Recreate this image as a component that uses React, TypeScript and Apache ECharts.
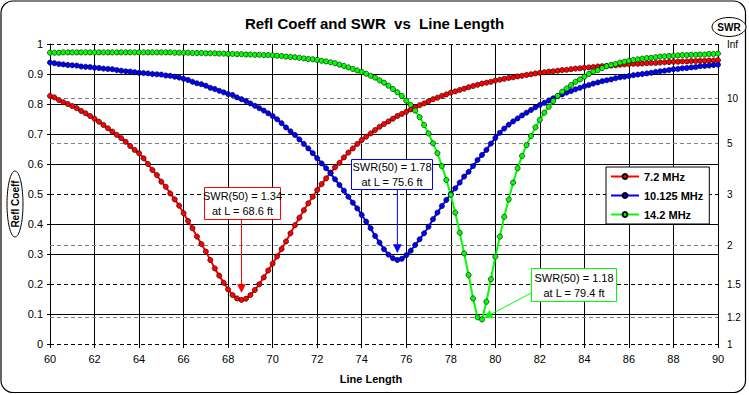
import React, { useEffect, useRef } from 'react';
import * as echarts from 'echarts';

const FONT = 'Arial, "Liberation Sans", sans-serif';

// Line length samples (ft)
const lengths = [
  60, 60.2, 60.4, 60.6, 60.8, 61, 61.2, 61.4, 61.6, 61.8,
  62, 62.2, 62.4, 62.6, 62.8, 63, 63.2, 63.4, 63.6, 63.8,
  64, 64.2, 64.4, 64.6, 64.8, 65, 65.2, 65.4, 65.6, 65.8,
  66, 66.2, 66.4, 66.6, 66.8, 67, 67.2, 67.4, 67.6, 67.8,
  68, 68.2, 68.4, 68.6, 68.8, 69, 69.2, 69.4, 69.6, 69.8,
  70, 70.2, 70.4, 70.6, 70.8, 71, 71.2, 71.4, 71.6, 71.8,
  72, 72.2, 72.4, 72.6, 72.8, 73, 73.2, 73.4, 73.6, 73.8,
  74, 74.2, 74.4, 74.6, 74.8, 75, 75.2, 75.4, 75.6, 75.8,
  76, 76.2, 76.4, 76.6, 76.8, 77, 77.2, 77.4, 77.6, 77.8,
  78, 78.2, 78.4, 78.6, 78.8, 79, 79.2, 79.4, 79.6, 79.8,
  80, 80.2, 80.4, 80.6, 80.8, 81, 81.2, 81.4, 81.6, 81.8,
  82, 82.2, 82.4, 82.6, 82.8, 83, 83.2, 83.4, 83.6, 83.8,
  84, 84.2, 84.4, 84.6, 84.8, 85, 85.2, 85.4, 85.6, 85.8,
  86, 86.2, 86.4, 86.6, 86.8, 87, 87.2, 87.4, 87.6, 87.8,
  88, 88.2, 88.4, 88.6, 88.8, 89, 89.2, 89.4, 89.6, 89.8,
  90,
];

// Reflection coefficient, 7.2 MHz
const refl72 = [
  0.827, 0.822, 0.813, 0.806, 0.800, 0.793, 0.786, 0.777, 0.769, 0.760,
  0.751, 0.741, 0.730, 0.719, 0.708, 0.697, 0.686, 0.674, 0.660, 0.647,
  0.636, 0.619, 0.600, 0.580, 0.563, 0.541, 0.524, 0.502, 0.482, 0.461,
  0.436, 0.410, 0.386, 0.358, 0.333, 0.308, 0.280, 0.252, 0.228, 0.204,
  0.182, 0.163, 0.152, 0.147, 0.151, 0.163, 0.180, 0.199, 0.222, 0.245,
  0.268, 0.292, 0.317, 0.342, 0.369, 0.396, 0.421, 0.446, 0.469, 0.491,
  0.513, 0.533, 0.552, 0.571, 0.589, 0.604, 0.622, 0.638, 0.652, 0.667,
  0.680, 0.691, 0.702, 0.713, 0.724, 0.733, 0.742, 0.751, 0.760, 0.767,
  0.774, 0.782, 0.789, 0.796, 0.802, 0.809, 0.816, 0.821, 0.827, 0.832,
  0.838, 0.842, 0.847, 0.851, 0.856, 0.860, 0.864, 0.868, 0.871, 0.874,
  0.878, 0.881, 0.884, 0.887, 0.889, 0.892, 0.894, 0.897, 0.899, 0.902,
  0.904, 0.906, 0.908, 0.909, 0.911, 0.913, 0.914, 0.916, 0.918, 0.919,
  0.921, 0.922, 0.923, 0.925, 0.926, 0.927, 0.928, 0.929, 0.931, 0.932,
  0.933, 0.934, 0.934, 0.935, 0.936, 0.937, 0.937, 0.938, 0.939, 0.940,
  0.941, 0.941, 0.942, 0.942, 0.943, 0.943, 0.944, 0.944, 0.945, 0.945,
  0.946,
];

// Reflection coefficient, 10.125 MHz
const refl10125 = [
  0.938, 0.936, 0.933, 0.932, 0.930, 0.929, 0.928, 0.925, 0.924, 0.923,
  0.921, 0.920, 0.918, 0.917, 0.916, 0.913, 0.911, 0.909, 0.908, 0.906,
  0.904, 0.903, 0.902, 0.900, 0.899, 0.898, 0.895, 0.894, 0.891, 0.888,
  0.884, 0.880, 0.874, 0.869, 0.866, 0.861, 0.854, 0.850, 0.844, 0.839,
  0.833, 0.830, 0.822, 0.816, 0.810, 0.802, 0.794, 0.786, 0.778, 0.769,
  0.760, 0.749, 0.736, 0.722, 0.709, 0.697, 0.682, 0.667, 0.652, 0.636,
  0.619, 0.602, 0.586, 0.569, 0.549, 0.530, 0.511, 0.491, 0.471, 0.452,
  0.430, 0.408, 0.386, 0.360, 0.338, 0.316, 0.298, 0.286, 0.280, 0.284,
  0.296, 0.311, 0.330, 0.349, 0.369, 0.391, 0.416, 0.438, 0.460, 0.480,
  0.500, 0.519, 0.538, 0.558, 0.574, 0.593, 0.613, 0.630, 0.647, 0.668,
  0.687, 0.704, 0.718, 0.731, 0.742, 0.752, 0.762, 0.771, 0.780, 0.789,
  0.797, 0.804, 0.812, 0.819, 0.826, 0.832, 0.838, 0.843, 0.849, 0.854,
  0.859, 0.863, 0.868, 0.872, 0.876, 0.879, 0.882, 0.886, 0.889, 0.891,
  0.893, 0.896, 0.898, 0.900, 0.902, 0.904, 0.907, 0.909, 0.911, 0.913,
  0.916, 0.917, 0.919, 0.920, 0.922, 0.923, 0.926, 0.927, 0.928, 0.930,
  0.931,
];

// Reflection coefficient, 14.2 MHz
const refl142 = [
  0.971, 0.971, 0.971, 0.972, 0.972, 0.972, 0.972, 0.972, 0.972, 0.972,
  0.972, 0.972, 0.972, 0.972, 0.972, 0.972, 0.972, 0.972, 0.972, 0.972,
  0.972, 0.972, 0.972, 0.972, 0.972, 0.972, 0.972, 0.972, 0.971, 0.971,
  0.971, 0.971, 0.970, 0.970, 0.970, 0.969, 0.969, 0.969, 0.968, 0.968,
  0.967, 0.967, 0.966, 0.966, 0.965, 0.965, 0.964, 0.964, 0.963, 0.963,
  0.962, 0.961, 0.960, 0.958, 0.957, 0.956, 0.954, 0.952, 0.950, 0.949,
  0.947, 0.944, 0.942, 0.939, 0.936, 0.931, 0.927, 0.922, 0.917, 0.912,
  0.907, 0.901, 0.894, 0.888, 0.879, 0.871, 0.861, 0.850, 0.839, 0.827,
  0.811, 0.797, 0.778, 0.756, 0.730, 0.702, 0.669, 0.636, 0.593, 0.547,
  0.497, 0.438, 0.371, 0.302, 0.230, 0.152, 0.089, 0.082, 0.141, 0.216,
  0.291, 0.358, 0.424, 0.482, 0.538, 0.586, 0.627, 0.663, 0.693, 0.722,
  0.747, 0.771, 0.791, 0.810, 0.827, 0.841, 0.852, 0.863, 0.874, 0.882,
  0.891, 0.900, 0.908, 0.913, 0.920, 0.926, 0.930, 0.933, 0.938, 0.941,
  0.944, 0.947, 0.949, 0.951, 0.953, 0.954, 0.956, 0.958, 0.959, 0.960,
  0.961, 0.962, 0.963, 0.963, 0.964, 0.964, 0.965, 0.965, 0.967, 0.967,
  0.968,
];

const seriesNames = ['7.2 MHz', '10.125 MHz', '14.2 MHz'];
const seriesValues = [refl72, refl10125, refl142];
const seriesColors = ['#FF0000', '#0000FF', '#00FF00'];

// Right-hand SWR scale: label and its reflection coefficient position
const swrLabels = ['Inf', '10', '5', '3', '2', '1.5', '1.2', '1'];
const swrGamma = [1, 0.8182, 0.6667, 0.5, 0.3333, 0.2, 0.0909, 0];

// Minimum annotations
const annotSWR = ['1.34', '1.78', '1.18'];
const annotLength = ['68.6', '75.6', '79.4'];
const annotTipL = [68.6, 75.6, 79.5];
const annotTipG = [0.172, 0.305, 0.087];

// Annotation box layout (px)
const annotBoxes = [
  { x: 204, y: 187, w: 76, h: 32, ax: 'bottom' },
  { x: 351, y: 159, w: 81, h: 30, ax: 'bottom' },
  { x: 531, y: 268, w: 85, h: 33, ax: 'left', ay: 293 },
];

export default function App() {
  const ref = useRef<HTMLDivElement>(null);

  useEffect(() => {
    if (!ref.current) return;
    const chart = echarts.init(ref.current, null, { renderer: 'svg' });

    const splitColors = [0, 1, 2, 3, 4, 5, 6, 7, 8, 9, 10].map((i) =>
      [0, 2, 5, 10].includes(i) ? 'rgba(0,0,0,0)' : '#000'
    );

    const series: any[] = seriesNames.map((name, k) => ({
      name,
      type: 'line',
      data: lengths.map((l, i) => [l, seriesValues[k][i]]),
      symbol: 'circle',
      symbolSize: 5.2,
      showSymbol: true,
      lineStyle: { color: seriesColors[k], width: 2 },
      itemStyle: { color: seriesColors[k], borderColor: '#000', borderWidth: 0.6 },
      emphasis: { disabled: true },
      z: 3,
    }));

    series.push({
      name: 'swrGrid',
      type: 'line',
      data: [],
      silent: true,
      markLine: {
        silent: true,
        z: 1,
        symbol: ['none', 'none'],
        animation: false,
        label: {
          show: true,
          position: 'end',
          distance: 9,
          color: '#000',
          fontSize: 10,
          fontFamily: FONT,
        },
        data: swrGamma.map((g, i) => {
          const onMajor = Math.abs(g * 10 - Math.round(g * 10)) < 1e-6;
          return {
            yAxis: g,
            label: { formatter: swrLabels[i] },
            lineStyle: {
              color: onMajor ? '#000' : '#808080',
              type: [4, 3],
              width: 1,
            },
          };
        }),
      },
    });

    chart.setOption({
      animation: false,
      backgroundColor: '#fff',
      textStyle: { fontFamily: FONT },
      title: {
        text: 'Refl Coeff and SWR  vs  Line Length',
        left: 'center',
        top: 11,
        textStyle: { fontSize: 15, fontWeight: 'bold', color: '#000', fontFamily: FONT },
      },
      grid: { left: 50, right: 31, top: 44, bottom: 51 },
      legend: {
        data: seriesNames,
        left: 606,
        top: 167,
        orient: 'vertical',
        itemWidth: 28,
        itemHeight: 6,
        itemGap: 8,
        padding: [4, 6, 4, 4],
        borderColor: '#000',
        borderWidth: 1,
        backgroundColor: '#fff',
        textStyle: { fontWeight: 'bold', fontSize: 11, color: '#000', fontFamily: FONT },
        selectedMode: false,
      },
      xAxis: {
        type: 'value',
        min: 60,
        max: 90,
        interval: 2,
        axisLine: { show: false },
        axisTick: { show: true, length: 4, lineStyle: { color: '#000' } },
        axisLabel: { color: '#000', fontSize: 11, margin: 9, fontFamily: FONT },
        splitLine: { show: true, lineStyle: { color: '#000', width: 1 } },
      },
      yAxis: {
        type: 'value',
        min: 0,
        max: 1,
        interval: 0.1,
        axisLine: { show: true, lineStyle: { color: '#000' } },
        axisTick: { show: true, length: 3, lineStyle: { color: '#000' } },
        axisLabel: { color: '#000', fontSize: 11, margin: 7, fontFamily: FONT },
        splitLine: { show: true, lineStyle: { color: splitColors, width: 1 } },
      },
      series,
    });

    const graphic: any[] = [];
    // outer rounded frame
    graphic.push({
      type: 'rect',
      silent: true,
      shape: { x: 1, y: 1, width: 744.5, height: 391.5, r: 12 },
      style: { fill: 'none', stroke: '#000', lineWidth: 1.2 },
    });
    // Left axis name ellipse
    graphic.push({
      type: 'ellipse',
      silent: true,
      shape: { cx: 15, cy: 204, rx: 8, ry: 33 },
      style: { fill: '#fff', stroke: '#000', lineWidth: 1 },
    });
    graphic.push({
      type: 'text',
      silent: true,
      x: 15,
      y: 204,
      rotation: Math.PI / 2,
      style: {
        text: 'Refl Coeff',
        font: `bold 10px ${FONT}`,
        fill: '#000',
        textAlign: 'center',
        textVerticalAlign: 'middle',
      },
    });
    // Right axis name ellipse
    graphic.push({
      type: 'ellipse',
      silent: true,
      shape: { cx: 729, cy: 27, rx: 17, ry: 9.5 },
      style: { fill: '#fff', stroke: '#000', lineWidth: 1 },
    });
    graphic.push({
      type: 'text',
      silent: true,
      x: 729,
      y: 27,
      style: {
        text: 'SWR',
        font: `bold 10px ${FONT}`,
        fill: '#000',
        textAlign: 'center',
        textVerticalAlign: 'middle',
      },
    });
    // x axis name
    graphic.push({
      type: 'text',
      silent: true,
      x: 371,
      y: 379,
      style: {
        text: 'Line Length',
        font: `bold 11px ${FONT}`,
        fill: '#000',
        textAlign: 'center',
        textVerticalAlign: 'middle',
      },
    });

    // annotations
    annotBoxes.forEach((b, k) => {
      const color = seriesColors[k];
      const tip = chart.convertToPixel({ gridIndex: 0 }, [annotTipL[k], annotTipG[k]]) as number[];
      let sx: number, sy: number;
      if (b.ax === 'bottom') {
        sx = tip[0];
        sy = b.y + b.h;
      } else {
        sx = b.x;
        sy = (b as any).ay;
      }
      const dx = tip[0] - sx;
      const dy = tip[1] - sy;
      const len = Math.sqrt(dx * dx + dy * dy);
      const ux = dx / len;
      const uy = dy / len;
      const headL = 8;
      const headW = 4;
      const bx = tip[0] - ux * headL;
      const by = tip[1] - uy * headL;
      graphic.push({
        type: 'line',
        silent: true,
        z: 50,
        shape: { x1: sx, y1: sy, x2: bx, y2: by },
        style: { stroke: color, lineWidth: 1 },
      });
      graphic.push({
        type: 'polygon',
        silent: true,
        z: 50,
        shape: {
          points: [
            [tip[0], tip[1]],
            [bx - uy * headW, by + ux * headW],
            [bx + uy * headW, by - ux * headW],
          ],
        },
        style: { fill: color, stroke: color, lineWidth: 0.5 },
      });
      graphic.push({
        type: 'rect',
        silent: true,
        z: 51,
        shape: { x: b.x + 0.5, y: b.y + 0.5, width: b.w, height: b.h },
        style: { fill: '#fff', stroke: color, lineWidth: 1 },
      });
      graphic.push({
        type: 'text',
        silent: true,
        z: 52,
        x: b.x + b.w / 2 + 0.5,
        y: b.y + b.h / 2 + 0.5,
        style: {
          text: `SWR(50) = ${annotSWR[k]}\nat L = ${annotLength[k]} ft`,
          font: `11px ${FONT}`,
          lineHeight: 15,
          fill: '#000',
          textAlign: 'center',
          textVerticalAlign: 'middle',
        },
      });
    });

    chart.setOption({ graphic });

    return () => {
      chart.dispose();
    };
  }, []);

  return (
    <div
      ref={ref}
      style={{ position: 'fixed', left: 0, top: 0, width: 749, height: 395, background: '#fff' }}
    />
  );
}
